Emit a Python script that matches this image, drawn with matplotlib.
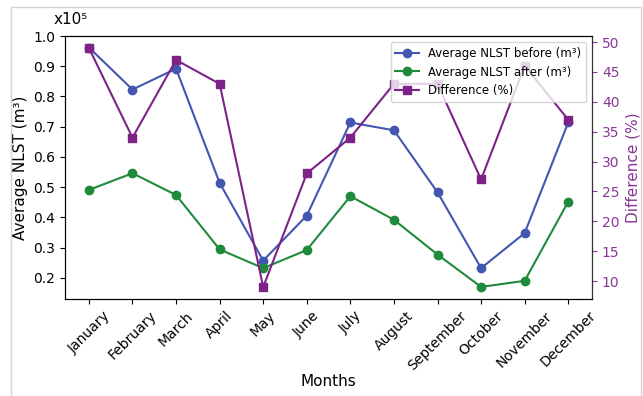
import matplotlib
matplotlib.use("Agg")
import matplotlib.pyplot as plt
from matplotlib.patches import Rectangle

months = ["January", "February", "March", "April", "May", "June", "July",
          "August", "September", "October", "November", "December"]
nlst_before = [0.962, 0.823, 0.892, 0.514, 0.257, 0.406, 0.714, 0.688, 0.483, 0.232, 0.348, 0.714]
nlst_after = [0.491, 0.546, 0.474, 0.294, 0.232, 0.292, 0.470, 0.392, 0.277, 0.170, 0.190, 0.452]
difference = [49, 34, 47, 43, 9, 28, 34, 43, 43, 27, 46, 37]

c_blue = "#4356b0"
c_green = "#1f8a3b"
c_purple = "#7d2388"
c_purple_text = "#8a3598"

fig = plt.figure(figsize=(6.43, 3.96), dpi=100)
ax = fig.add_axes([0.101, 0.245, 0.820, 0.664])
x = list(range(len(months)))
l1, = ax.plot(x, nlst_before, marker="o", color=c_blue, lw=1.5, ms=6, label="Average NLST before (m³)")
l2, = ax.plot(x, nlst_after, marker="o", color=c_green, lw=1.5, ms=6, label="Average NLST after (m³)")
ax.set_ylim(0.13, 1.0)
ax.set_yticks([0.2, 0.3, 0.4, 0.5, 0.6, 0.7, 0.8, 0.9, 1.0])
ax.set_xticks(x)
ax.set_xticklabels(months, rotation=45)
ax.set_xlabel("Months", fontsize=11, labelpad=1)
ax.set_ylabel("Average NLST (m³)", fontsize=11)

ax2 = ax.twinx()
l3, = ax2.plot(x, difference, marker="s", color=c_purple, lw=1.5, ms=6, label="Difference (%)")
ax2.set_ylabel("Difference (%)", color=c_purple_text, fontsize=11)
ax2.tick_params(axis="y", colors=c_purple_text)
ax2.spines["right"].set_color("#333333")
ax2.set_yticks([10, 15, 20, 25, 30, 35, 40, 45, 50])

ax2.legend(handles=[l1, l2, l3], loc="upper right", fontsize=8.5)

fig.text(71 / 643, 1 - 20 / 396, "x10⁵", ha="center", va="center", fontsize=11)

fig.add_artist(Rectangle((11 / 643, -0.1), 630 / 643, 1.1 - 7 / 396,
                         transform=fig.transFigure, fill=False,
                         edgecolor="#d4d4d4", lw=1, clip_on=False))

fig.savefig("out.png", dpi=100)
